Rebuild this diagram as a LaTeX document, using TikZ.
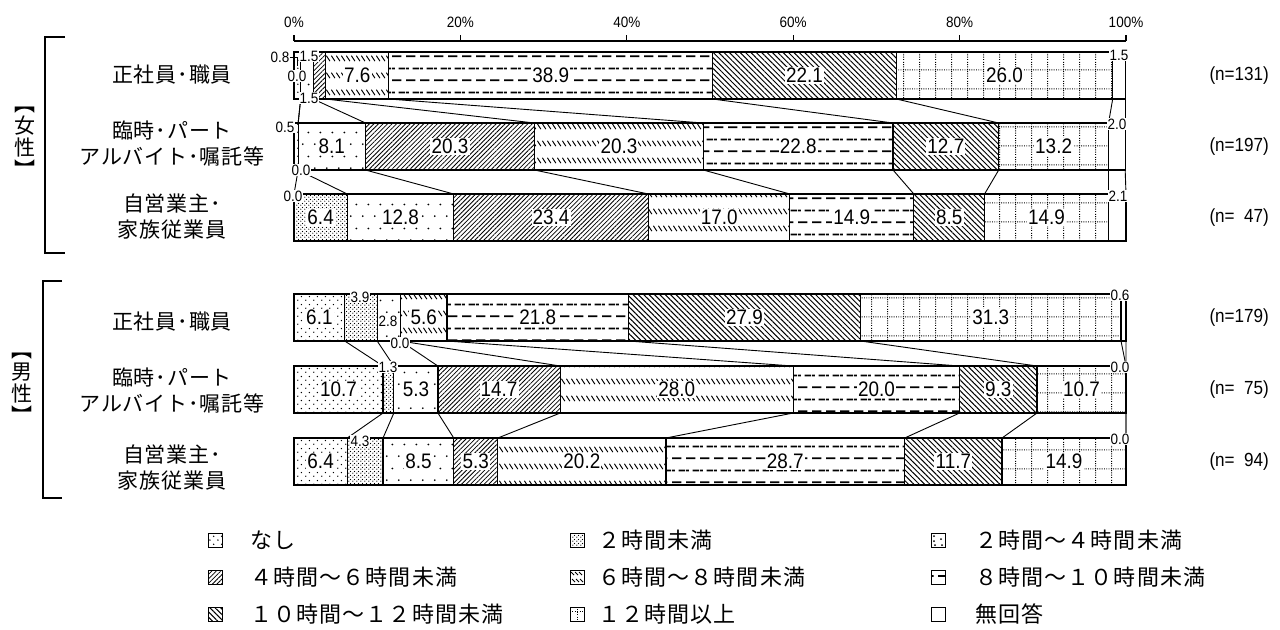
\documentclass[tikz,border=0pt]{standalone}
\usepackage{fontspec}
\setmainfont{Liberation Sans}[FakeStretch=0.9]
\newfontfamily\jp{Noto Sans CJK JP}
\newfontfamily\jpcat{Noto Sans CJK JP}[LetterSpace=4]
\newfontfamily\jpleg{Noto Sans CJK JP}[LetterSpace=5]
\usetikzlibrary{patterns,patterns.meta}

% hand made fills for the hour classes
\pgfdeclarepatternformonly{nashi}{\pgfqpoint{0pt}{0pt}}{\pgfqpoint{4pt}{4pt}}{\pgfqpoint{4pt}{4pt}}{%
  \pgfpathcircle{\pgfqpoint{1pt}{1pt}}{0.4pt}%
  \pgfpathcircle{\pgfqpoint{3pt}{3pt}}{0.4pt}%
  \pgfusepath{fill}}
\pgfdeclarepatternformonly{under2}{\pgfqpoint{0pt}{0pt}}{\pgfqpoint{2pt}{2pt}}{\pgfqpoint{2pt}{2pt}}{%
  \pgfpathcircle{\pgfqpoint{0.5pt}{0.5pt}}{0.38pt}%
  \pgfpathcircle{\pgfqpoint{1.5pt}{1.5pt}}{0.38pt}%
  \pgfusepath{fill}}
\pgfdeclarepatternformonly{twofour}{\pgfqpoint{0pt}{0pt}}{\pgfqpoint{6pt}{12pt}}{\pgfqpoint{6pt}{12pt}}{%
  \pgfpathcircle{\pgfqpoint{1.5pt}{3pt}}{0.5pt}%
  \pgfpathcircle{\pgfqpoint{4.5pt}{9pt}}{0.5pt}%
  \pgfusepath{fill}}
\pgfdeclarepatternformonly{sixeight}{\pgfqpoint{0pt}{0pt}}{\pgfqpoint{2.4pt}{8.5pt}}{\pgfqpoint{2.4pt}{8.5pt}}{%
  \pgfsetlinewidth{0.5pt}%
  \pgfpathmoveto{\pgfqpoint{0.2pt}{6.9pt}}\pgfpathlineto{\pgfqpoint{2pt}{4.1pt}}%
  \pgfusepath{stroke}}
\pgfdeclarepatternformonly{eightten}{\pgfqpoint{0pt}{0pt}}{\pgfqpoint{7pt}{11.8pt}}{\pgfqpoint{7pt}{11.8pt}}{%
  \pgfsetlinewidth{0.9pt}%
  \pgfpathmoveto{\pgfqpoint{0pt}{2.95pt}}\pgfpathlineto{\pgfqpoint{5pt}{2.95pt}}%
  \pgfpathmoveto{\pgfqpoint{3.5pt}{8.85pt}}\pgfpathlineto{\pgfqpoint{7pt}{8.85pt}}%
  \pgfpathmoveto{\pgfqpoint{0pt}{8.85pt}}\pgfpathlineto{\pgfqpoint{1.5pt}{8.85pt}}%
  \pgfusepath{stroke}}
\pgfdeclarepatternformonly{overtwelve}{\pgfqpoint{0pt}{0pt}}{\pgfqpoint{8pt}{9.5pt}}{\pgfqpoint{8pt}{9.5pt}}{%
  \pgfsetlinewidth{0.5pt}\pgfsetdash{{0.5pt}{0.7pt}}{0pt}%
  \pgfpathmoveto{\pgfqpoint{4pt}{0pt}}\pgfpathlineto{\pgfqpoint{4pt}{9.5pt}}%
  \pgfpathmoveto{\pgfqpoint{0pt}{4.75pt}}\pgfpathlineto{\pgfqpoint{8pt}{4.75pt}}%
  \pgfusepath{stroke}}

\tikzset{
  seg/.style={draw, line width=0.6pt},
  sline/.style={line width=0.45pt},
  cat1/.style={pattern=nashi},
  cat2/.style={pattern=under2},
  cat3/.style={pattern=twofour},
  cat4/.style={pattern={Lines[angle=45,distance=1.6pt,line width=0.4pt]}},
  cat5/.style={pattern=sixeight},
  cat6/.style={pattern=eightten},
  cat7/.style={pattern={Lines[angle=-45,distance=1.9pt,line width=0.5pt]}},
  cat8/.style={pattern=overtwelve},
  cat9/.style={fill=white},
  key1/.style={cat1}, key2/.style={cat2}, key3/.style={fill=white},
  key4/.style={cat4}, key5/.style={fill=white}, key6/.style={cat6},
  key7/.style={cat7}, key8/.style={fill=white}, key9/.style={cat9},
  dotline/.style={line width=0.5pt, dash pattern=on 0.5pt off 0.7pt},
  inlab/.style={fill=white, inner sep=0.6pt, font=\fontsize{10.5}{12}\selectfont},
  slab/.style={fill=white, inner sep=0.3pt, font=\fontsize{7.5}{9}\selectfont},
  nlab/.style={anchor=east, font=\fontsize{9.5}{11}\selectfont},
  grp/.style={align=center, font=\jpcat\fontsize{10.5}{13}\selectfont},
  sex/.style={align=center, font=\jp\fontsize{10.5}{11}\selectfont},
  legtext/.style={anchor=west, inner sep=0pt, font=\jpleg\fontsize{11}{13}\selectfont},
}

\begin{document}
\begin{tikzpicture}[x=0.5pt, y=-0.5pt]
\useasboundingbox (0,0) rectangle (1280,629);

\newcommand{\drawbar}[3]{
  \xdef\cumsum{0}
  \foreach \v [count=\i] in {#3} {
    \pgfmathsetmacro{\xa}{294+8.32*\cumsum}
    \pgfmathsetmacro{\cumend}{\cumsum+\v}
    \xdef\cumsum{\cumend}
    \pgfmathsetmacro{\xb}{294+8.32*\cumsum}
    \filldraw[seg, cat\i] (\xa,#2) rectangle (\xb,#2+47);
    \coordinate (#1-\i-t) at (\xb,#2);
    \coordinate (#1-\i-b) at (\xb,#2+47);
    \ifdim\v pt<5pt\else
      \node[inlab] (#1-\i-l) at ({(\xa+\xb)/2},#2+23.5) {\v};
    \fi
  }
}

% scale
\draw[line width=1.1pt] (294,41) -- (1126,41);
\foreach \p in {0,20,...,100} {
  \draw[line width=0.6pt] (294+8.32*\p,41) -- ++(0,-6);
  \node[font=\fontsize{7.5}{8}\selectfont] (tick\p) at (294+8.32*\p,22) {\p\%};
}

% women
\drawbar{f1}{52}{0.8,0.0,1.5,1.5,7.6,38.9,22.1,26.0,1.5}
\drawbar{f2}{123}{0.5,0.0,8.1,20.3,20.3,22.8,12.7,13.2,2.0}
\drawbar{f3}{194}{0.0,6.4,12.8,23.4,17.0,14.9,8.5,14.9,2.1}
% men
\drawbar{m1}{294}{6.1,3.9,2.8,0.0,5.6,21.8,27.9,31.3,0.6}
\drawbar{m2}{366}{10.7,1.3,5.3,14.7,28.0,20.0,9.3,10.7,0.0}
\drawbar{m3}{438}{6.4,4.3,8.5,5.3,20.2,28.7,11.7,14.9,0.0}

\foreach \g in {f,m}
  \foreach \k in {1,...,9} {
    \draw[sline] (\g1-\k-b) -- (\g2-\k-t);
    \draw[sline] (\g2-\k-b) -- (\g3-\k-t);
  }

% values of the thin pieces
\foreach \n/\x/\y/\t in {f1-s1/280/57/0.8, f1-s2/297/76/0.0, f1-s3/309/98/1.5,
    f1-s4/309/56/1.5, f1-s5/1119/55/1.5, f2-s1/285/127/0.5, f2-s2/301/170/0.0,
    f2-s3/1117/124/2.0, f3-s1/293/196/0.0, f3-s2/1118/196/2.1,
    m1-s1/360/297/3.9, m1-s2/388/321/2.8, m1-s3/400/343/0.0, m1-s4/1120/295/0.6,
    m2-s1/388/367/1.3, m2-s2/1120/367/0.0, m3-s1/360/441/4.3, m3-s2/1120/439/0.0}
  \node[slab] (\n) at (\x,\y) {\t};
\coordinate (f1-s1-t) at (297,66);
\draw[sline] (f1-s1) -| (f1-s1-t);

% row titles
\node[grp] (f-c1) at (172,75) {正社員･職員};
\node[grp] (f-c2) at (172,143) {臨時･パート\\アルバイト･嘱託等};
\node[grp] (f-c3) at (172,217) {自営業主･\\家族従業員};
\node[grp] (m-c1) at (172,322) {正社員･職員};
\node[grp] (m-c2) at (172,390) {臨時･パート\\アルバイト･嘱託等};
\node[grp] (m-c3) at (172,468) {自営業主･\\家族従業員};

\node[sex] (f-sex) at (25,142) {︻\\女\\性\\︼};
\node[sex] (m-sex) at (22,388) {︻\\男\\性\\︼};
\draw[line width=0.6pt] (65,37) -- (45,37) -- (45,253) -- (65,253);
\draw[line width=0.6pt] (62,281) -- (43,281) -- (43,498) -- (62,498);

% sample sizes
\node[nlab] (f-n1) at (1276,75.5) {(n=131)};
\node[nlab] (f-n2) at (1276,146.5) {(n=197)};
\node[nlab] (f-n3) at (1276,217.5) {(n=\phantom{0}47)};
\node[nlab] (m-n1) at (1276,318) {(n=179)};
\node[nlab] (m-n2) at (1276,390) {(n=\phantom{0}75)};
\node[nlab] (m-n3) at (1276,462) {(n=\phantom{0}94)};

% legend
\foreach \t [count=\i] in {なし,２時間未満,２時間～４時間未満,４時間～６時間未満,６時間～８時間未満,８時間～１０時間未満,１０時間～１２時間未満,１２時間以上,無回答} {
  \pgfmathtruncatemacro{\col}{mod(\i-1,3)}
  \pgfmathtruncatemacro{\row}{(\i-1)/3}
  \pgfmathsetmacro{\lx}{{208,570,931}[\col]}
  \pgfmathsetmacro{\tx}{{250,598,975}[\col]}
  \pgfmathsetmacro{\ly}{540+37*\row}
  \filldraw[seg, line width=0.45pt, key\i] (\lx,\ly-7) rectangle ++(14,14);
  \node[legtext] (leg\i) at (\tx,\ly) {\t};
}
% the coarse fills do not show in a small key box
\foreach \x/\y in {934/536, 934/541, 941/539, 935/545, 942/545}
  \fill (\x,\y) circle (0.5pt);
\foreach \x in {571,575,579} {
  \draw[line width=0.5pt] (\x,572) -- ++(3,3);
  \draw[line width=0.5pt] (\x+1,579) -- ++(3,3);
}
\draw[dotline] (577,607) -- (577,621);
\draw[dotline] (570,611) -- (584,611);
\end{tikzpicture}
\end{document}
